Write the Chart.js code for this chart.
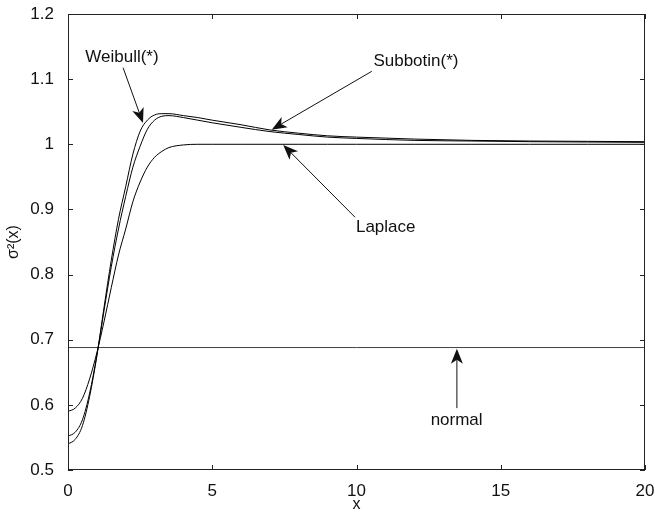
<!DOCTYPE html>
<html>
<head>
<meta charset="utf-8">
<script src="https://cdn.jsdelivr.net/npm/chart.js@4.4.1/dist/chart.umd.min.js"></script>
<style>
  html, body { margin: 0; padding: 0; background: #fff; }
  #wrap { width: 655px; height: 517px; }
</style>
</head>
<body>
<div id="wrap"><canvas id="sigma"></canvas></div>
<script>
var xs = [0, 0.25, 0.5, 0.75, 1, 1.25, 1.5, 1.75, 2, 2.25, 2.5, 2.75, 3, 3.25, 3.5, 4, 4.5, 5, 6, 7, 8, 9, 10, 12, 14, 16, 18, 20];
var weibull  = [0.540, 0.547, 0.568, 0.613, 0.675, 0.750, 0.822, 0.885, 0.935, 0.985, 1.020, 1.037, 1.045, 1.047, 1.047, 1.044, 1.041, 1.037, 1.030, 1.022, 1.017, 1.013, 1.011, 1.008, 1.006, 1.005, 1.0045, 1.004];
var subbotin = [0.552, 0.558, 0.577, 0.618, 0.676, 0.745, 0.812, 0.870, 0.920, 0.965, 0.997, 1.023, 1.037, 1.043, 1.044, 1.041, 1.037, 1.033, 1.026, 1.0195, 1.015, 1.011, 1.009, 1.006, 1.005, 1.004, 1.0035, 1.003];
var laplace  = [0.590, 0.595, 0.610, 0.640, 0.680, 0.728, 0.780, 0.830, 0.870, 0.912, 0.942, 0.965, 0.980, 0.989, 0.995, 0.999, 1.000, 1.000, 1.000, 1.000, 1.000, 1.000, 1.000, 1.000, 1.000, 1.000, 1.000, 1.000];
var normalLevel = 0.688;

var xTicks = [0, 5, 10, 15, 20];
var yTicks = [0.5, 0.6, 0.7, 0.8, 0.9, 1.0, 1.1, 1.2];

// text labels with arrows, in data coordinates
var notes = [
  { text: 'Weibull(*)',  tx: 1.87,  ty: 1.133, align: 'center', from: [1.91, 1.1175],  to: [2.60, 1.0325] },
  { text: 'Subbotin(*)', tx: 12.06, ty: 1.127, align: 'center', from: [10.53, 1.112],  to: [7.06, 1.0225] },
  { text: 'Laplace',     tx: 9.98,  ty: 0.872, align: 'left',   from: [9.95, 0.888],   to: [7.46, 0.999] },
  { text: 'normal',      tx: 13.47, ty: 0.577, align: 'center', from: [13.48, 0.595],  to: [13.48, 0.686] }
];

function pts(ys) {
  return xs.map(function (x, i) { return { x: x, y: ys[i] }; });
}

var FONT = '"Liberation Sans", Arial, Helvetica, sans-serif';

function drawArrow(c, x0, y0, x1, y1) {
  var ang = Math.atan2(y1 - y0, x1 - x0);
  var len = 15, half = 6, notch = 4;
  var cos = Math.cos(ang), sin = Math.sin(ang);
  c.beginPath();
  c.moveTo(x0, y0);
  c.lineTo(x1 - cos * (len - notch), y1 - sin * (len - notch));
  c.stroke();
  c.beginPath();
  c.moveTo(x1, y1);
  c.lineTo(x1 - cos * len - sin * half, y1 - sin * len + cos * half);
  c.lineTo(x1 - cos * (len - notch), y1 - sin * (len - notch));
  c.lineTo(x1 - cos * len + sin * half, y1 - sin * len - cos * half);
  c.closePath();
  c.fill();
}

var matlabBox = {
  id: 'matlabBox',
  afterDatasetsDraw: function (chart) {
    var c = chart.ctx, a = chart.chartArea;
    var sx = chart.scales.x, sy = chart.scales.y;
    c.save();
    c.strokeStyle = '#222';
    c.lineWidth = 1;
    c.strokeRect(a.left + 0.5, a.top + 0.5, a.right - a.left - 1, a.bottom - a.top - 1);
    c.beginPath();
    xTicks.forEach(function (t) {
      var p = Math.round(sx.getPixelForValue(t)) + 0.5;
      c.moveTo(p, a.bottom); c.lineTo(p, a.bottom - 5);
      c.moveTo(p, a.top); c.lineTo(p, a.top + 5);
    });
    yTicks.forEach(function (t) {
      var p = Math.round(sy.getPixelForValue(t)) + 0.5;
      c.moveTo(a.left, p); c.lineTo(a.left + 5, p);
      c.moveTo(a.right, p); c.lineTo(a.right - 5, p);
    });
    c.stroke();

    c.fillStyle = '#111';
    c.strokeStyle = '#111';
    c.lineWidth = 1;
    c.font = '17px ' + FONT;
    c.textBaseline = 'middle';
    notes.forEach(function (n) {
      c.textAlign = n.align;
      c.fillText(n.text, sx.getPixelForValue(n.tx), sy.getPixelForValue(n.ty));
      drawArrow(c,
        sx.getPixelForValue(n.from[0]), sy.getPixelForValue(n.from[1]),
        sx.getPixelForValue(n.to[0]), sy.getPixelForValue(n.to[1]));
    });
    c.restore();
  }
};

function curve(label, data, color) {
  return {
    label: label,
    data: data,
    borderColor: color,
    borderWidth: 1,
    pointRadius: 0,
    fill: false,
    cubicInterpolationMode: 'monotone'
  };
}

var ctx = document.getElementById('sigma').getContext('2d');
var sigmaChart = new Chart(ctx, {
  type: 'line',
  data: {
    datasets: [
      curve('Weibull(*)', pts(weibull), '#000'),
      curve('Subbotin(*)', pts(subbotin), '#000'),
      curve('Laplace', pts(laplace), '#000'),
      curve('normal', [{ x: 0, y: normalLevel }, { x: 20, y: normalLevel }], '#444')
    ]
  },
  options: {
    responsive: true,
    maintainAspectRatio: false,
    animation: false,
    layout: { padding: { top: 14, right: 10, left: 0, bottom: 0 } },
    plugins: { legend: { display: false }, tooltip: { enabled: false } },
    scales: {
      x: {
        type: 'linear',
        min: 0, max: 20,
        grid: { display: false },
        border: { display: false },
        afterBuildTicks: function (s) { s.ticks = xTicks.map(function (v) { return { value: v }; }); },
        afterFit: function (s) { s.height = 47; s.paddingLeft = 0; s.paddingRight = 0; },
        ticks: { color: '#111', font: { family: FONT, size: 17 }, padding: 3, maxRotation: 0 },
        title: { display: true, text: 'x', color: '#111', font: { family: FONT, size: 16 }, padding: { top: 0, bottom: 3 } }
      },
      y: {
        min: 0.5, max: 1.2,
        grid: { display: false },
        border: { display: false },
        afterBuildTicks: function (s) { s.ticks = yTicks.map(function (v) { return { value: v }; }); },
        afterFit: function (s) { s.width = 68; s.paddingTop = 0; s.paddingBottom = 0; },
        ticks: {
          color: '#111', font: { family: FONT, size: 17 }, padding: 6,
          callback: function (v) { return String(+Number(v).toFixed(1)); }
        },
        title: { display: true, text: 'σ²(x)', color: '#111', font: { family: FONT, size: 16 }, padding: { top: 4, bottom: 0 } }
      }
    }
  },
  plugins: [matlabBox]
});
</script>
</body>
</html>
